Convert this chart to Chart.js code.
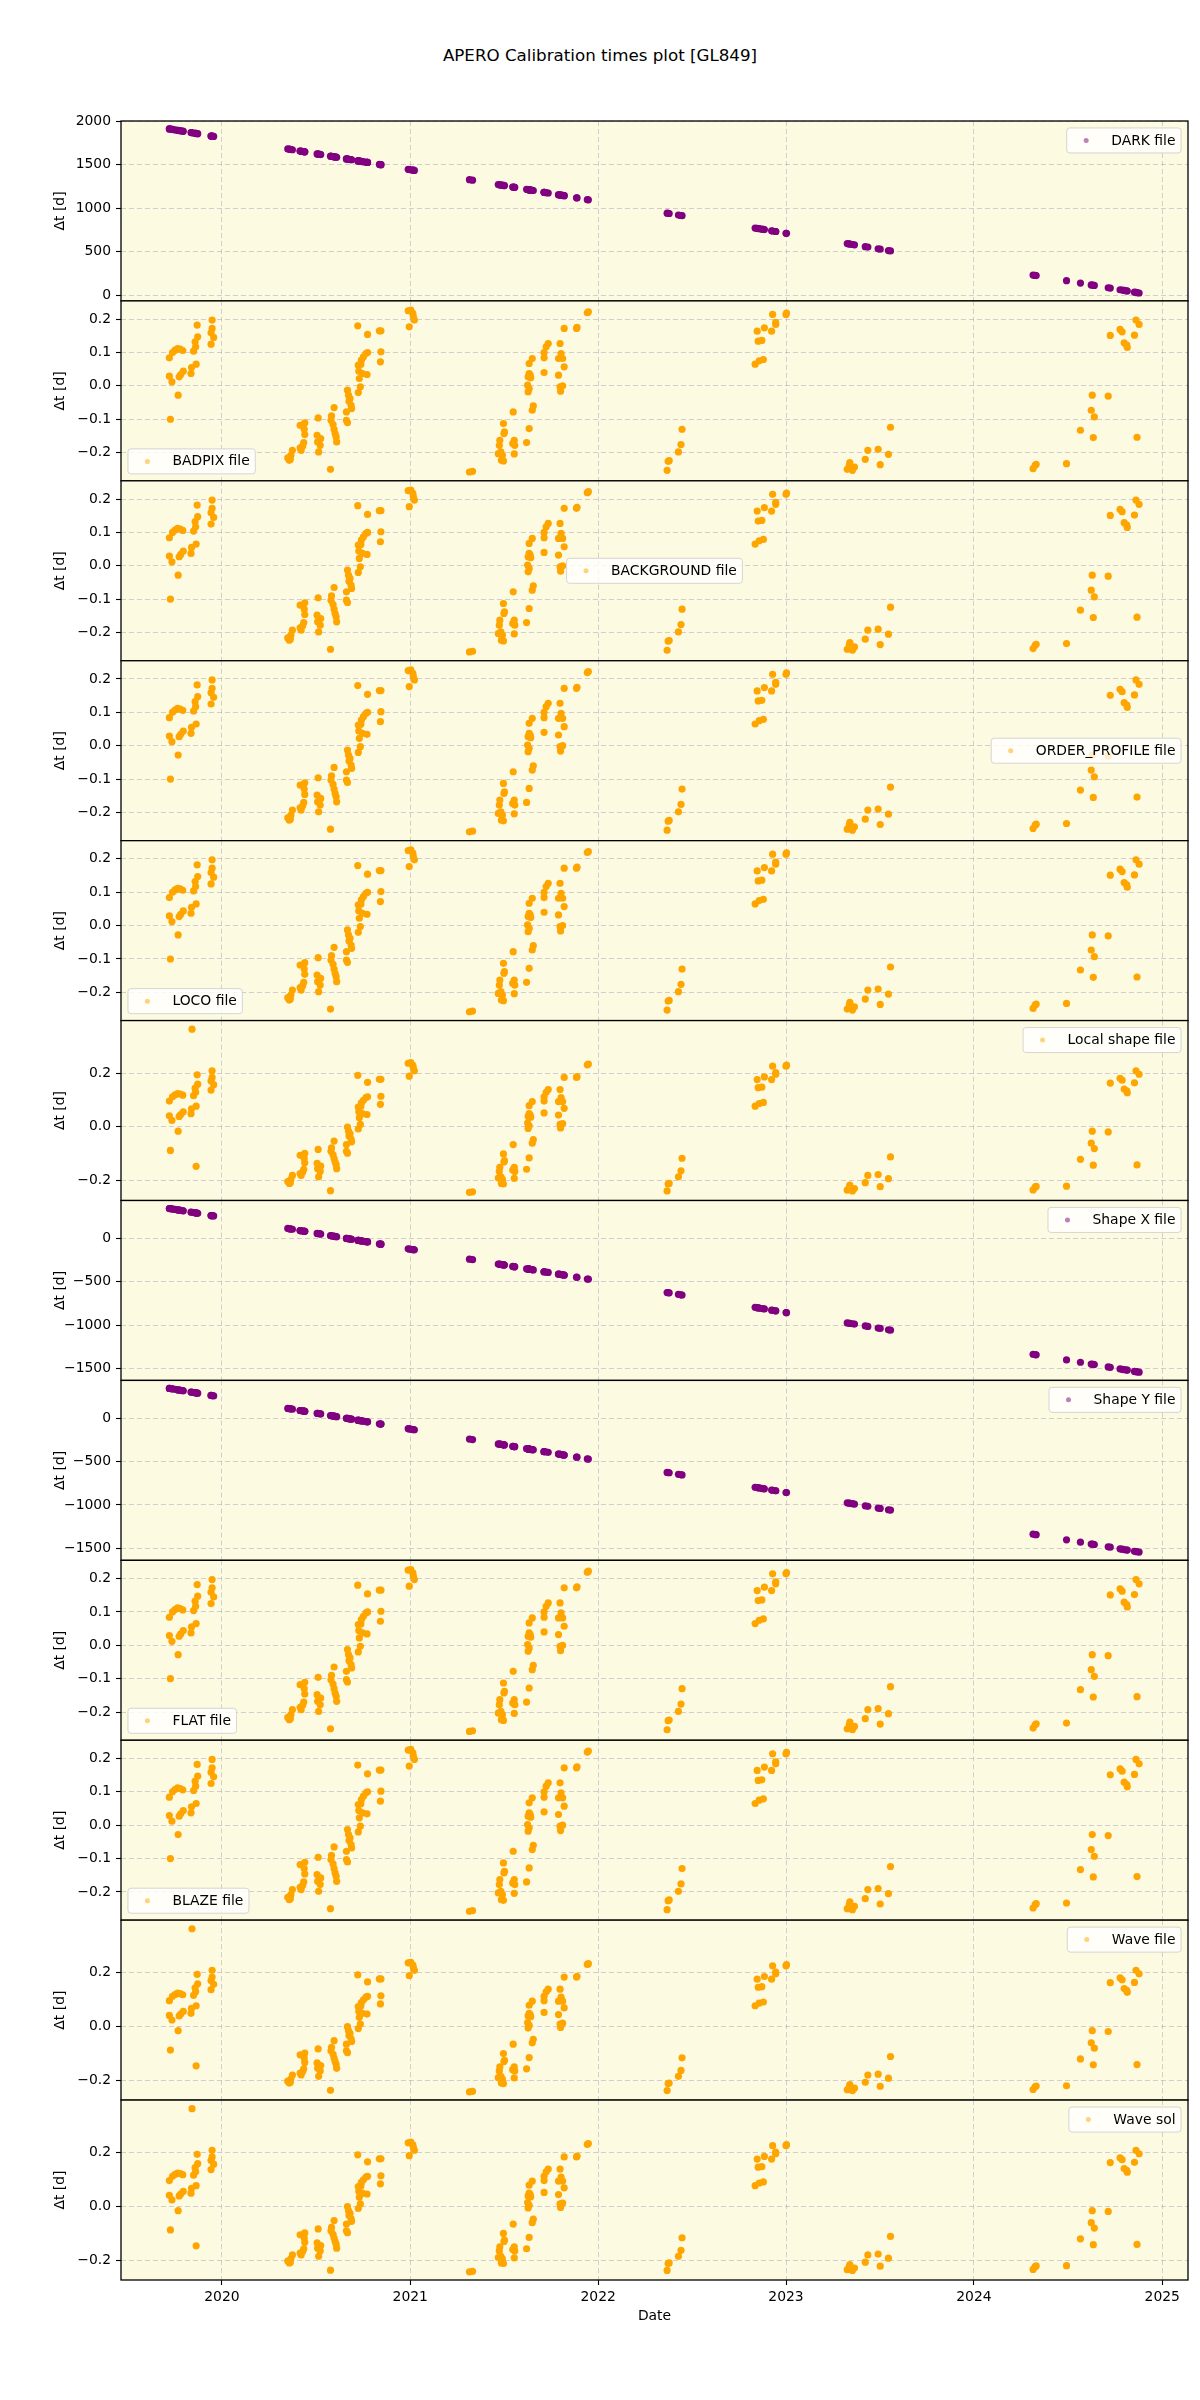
<!DOCTYPE html>
<html>
<head>
<meta charset="utf-8">
<script src="https://cdn.jsdelivr.net/npm/chart.js@4.4.1/dist/chart.umd.min.js"></script>
<style>
  html, body { margin: 0; padding: 0; background: #ffffff; }
  body { width: 1200px; height: 2400px; position: relative; overflow: hidden; }
  canvas { position: absolute; left: 0; }
  #title { position: absolute; left: 0; width: 1200px; top: 45px; line-height: 21px; text-align: center;
           font-family: 'DejaVu Sans'; font-size: 16.7px; color: #000; }
</style>
</head>
<body>
<div id="title">APERO Calibration times plot [GL849]</div>
<script>
// ---------------- DATA ----------------
// Observation dates (MJD) of calibration files
const obsMJD = [
  58747,58747,58749,58752,58753,58758,58763,58768,58773,58764,58766,58769,58774,58789,58790,58799,58794,58798,58797,58802,58801,58828,58828,58830,58833,58830,
  58977,58980,58982,58983,58986,59001,59010,59009,59010,59001,59003,59006,59008,59036,59034,59035,59040,59041,59037,59060,59062,59061,59065,59067,59071,59072,59069,59067,59091,59091,59093,59093,59095,59098,59100,59101,59096,59114,59118,59116,59115,59119,59114,59120,59124,59129,59132,59122,59131,59113,59132,59155,59158,59158,59157,59211,59216,59220,59221,59223,59213,
  59330,59336,59386,59388,59389,59391,59392,59396,59394,59396,59398,59397,59415,59414,59417,59418,59417,59441,59446,59452,59454,59444,59446,59443,59444,59448,59446,59449,59446,59452,59475,59475,59475,59479,59483,59503,59506,59507,59511,59503,59508,59511,59514,59506,59514,59538,59539,59559,59561,
  59714,59716,59718,59736,59741,59743,59885,59893,59901,59891,59898,59889,59903,59917,59919,59925,59925,59945,59946,
  60064,60069,60074,60078,60068,60099,60104,60124,60128,60144,60148,
  60425,60431,60429,60490,60517,60538,60544,60540,60571,60542,60627,60575,60594,60598,60622,60602,60607,60608,60625,60631
];

// Δt [d] for DARK file
const darkDt = [
  1909,1909,1907,1904,1903,1898,1893,1888,1883,1892,1890,1887,1882,1867,1866,1857,1862,1858,1859,1854,1855,1828,1828,1826,1823,1826,
  1679,1676,1674,1673,1670,1655,1646,1647,1646,1655,1653,1650,1648,1620,1622,1621,1616,1615,1619,1596,1594,1595,1591,1589,1585,1584,1587,1589,1565,1565,1563,1563,1561,1558,1556,1555,1560,1542,1538,1540,1541,1537,1542,1536,1532,1527,1524,1534,1525,1543,1524,1501,1498,1498,1499,1445,1440,1436,1435,1433,1443,
  1326,1320,1270,1268,1267,1265,1264,1260,1262,1260,1258,1259,1241,1242,1239,1238,1239,1215,1210,1204,1202,1212,1210,1213,1212,1208,1210,1207,1210,1204,1181,1181,1181,1177,1173,1153,1150,1149,1145,1153,1148,1145,1142,1150,1142,1118,1117,1097,1095,
  942,940,938,920,915,913,771,763,755,765,758,767,753,739,737,731,731,711,710,
  592,587,582,578,588,557,552,532,528,512,508,
  231,225,227,166,139,118,112,116,85,114,29,81,62,58,34,54,49,48,31,25
];

// Δt [d] for Shape X / Shape Y files
const shapeDt = [
  342,342,340,337,336,331,326,321,316,325,323,320,315,300,299,290,295,291,292,287,288,261,261,259,256,259,
  112,109,107,106,103,88,79,80,79,88,86,83,81,53,55,54,49,48,52,29,27,28,24,22,18,17,20,22,-2,-2,-4,-4,-6,-9,-11,-12,-7,-25,-29,-27,-26,-30,-25,-31,-35,-40,-43,-33,-42,-24,-43,-66,-69,-69,-68,-122,-127,-131,-132,-134,-124,
  -241,-247,-297,-299,-300,-302,-303,-307,-305,-307,-309,-308,-326,-325,-328,-329,-328,-352,-357,-363,-365,-355,-357,-354,-355,-359,-357,-360,-357,-363,-386,-386,-386,-390,-394,-414,-417,-418,-422,-414,-419,-422,-425,-417,-425,-449,-450,-470,-472,
  -625,-627,-629,-647,-652,-654,-796,-804,-812,-802,-809,-800,-814,-828,-830,-836,-836,-856,-857,
  -975,-980,-985,-989,-979,-1010,-1015,-1035,-1039,-1055,-1059,
  -1336,-1342,-1340,-1401,-1428,-1449,-1455,-1451,-1482,-1453,-1538,-1486,-1505,-1509,-1533,-1513,-1518,-1519,-1536,-1542
];

// Δt [d] for BADPIX / BACKGROUND / ORDER_PROFILE / LOCO / FLAT / BLAZE files
const nightDtA = [
  0.084,0.029,-0.100,0.012,0.100,0.107,0.112,0.110,0.106,-0.028,0.027,0.034,0.044,0.037,0.055,0.065,0.104,0.117,0.132,0.147,0.182,0.125,0.159,0.172,0.145,0.197,
  -0.216,-0.223,-0.220,-0.208,-0.193,-0.118,-0.111,-0.130,-0.146,-0.186,-0.193,-0.180,-0.170,-0.096,-0.148,-0.168,-0.178,-0.158,-0.198,-0.250,-0.090,-0.103,-0.116,-0.130,-0.153,-0.168,-0.143,-0.065,-0.078,-0.103,-0.110,-0.013,-0.028,-0.038,-0.058,-0.068,-0.046,-0.020,-0.003,0.022,0.044,0.064,0.062,0.077,0.087,0.097,0.100,0.037,0.034,0.180,0.154,0.165,0.165,0.102,0.072,0.225,0.227,0.217,0.207,0.197,0.177,
  -0.258,-0.256,-0.203,-0.178,-0.163,-0.198,-0.223,-0.225,-0.208,-0.113,-0.138,-0.143,-0.078,-0.173,-0.163,-0.178,-0.204,-0.170,-0.128,-0.073,-0.060,-0.018,-0.008,0.002,0.027,0.032,0.037,0.024,0.067,0.082,0.040,0.084,0.100,0.117,0.127,0.032,-0.003,-0.016,0.000,0.082,0.097,0.082,0.057,0.127,0.172,0.172,0.175,0.219,0.222,
  -0.253,-0.226,-0.224,-0.198,-0.176,-0.130,0.065,0.075,0.079,0.134,0.136,0.164,0.174,0.164,0.214,0.184,0.190,0.214,0.218,
  -0.250,-0.230,-0.253,-0.243,-0.238,-0.220,-0.193,-0.190,-0.236,-0.205,-0.124,
  -0.248,-0.235,-0.238,-0.233,-0.133,-0.073,-0.093,-0.028,-0.031,-0.155,-0.154,0.151,0.169,0.162,0.152,0.129,0.122,0.115,0.197,0.184
];

// Δt [d] for Local shape / Wave file / Wave sol
const nightDtB = [
  0.096,0.041,-0.088,0.024,0.112,0.119,0.124,0.122,0.118,-0.016,0.039,0.046,0.056,0.049,0.067,0.077,0.116,0.129,0.144,0.159,0.194,0.137,0.171,0.184,0.157,0.209,
  -0.204,-0.211,-0.208,-0.196,-0.181,-0.106,-0.099,-0.118,-0.134,-0.174,-0.181,-0.168,-0.158,-0.084,-0.136,-0.156,-0.166,-0.146,-0.186,-0.238,-0.078,-0.091,-0.104,-0.118,-0.141,-0.156,-0.131,-0.053,-0.066,-0.091,-0.098,-0.001,-0.016,-0.026,-0.046,-0.056,-0.034,-0.008,0.009,0.034,0.056,0.076,0.074,0.089,0.099,0.109,0.112,0.049,0.046,0.192,0.166,0.177,0.177,0.114,0.084,0.237,0.239,0.229,0.219,0.209,0.189,
  -0.244,-0.242,-0.191,-0.166,-0.151,-0.186,-0.211,-0.213,-0.196,-0.101,-0.126,-0.131,-0.066,-0.161,-0.151,-0.166,-0.192,-0.158,-0.116,-0.061,-0.048,-0.006,0.004,0.014,0.039,0.044,0.049,0.036,0.079,0.094,0.052,0.096,0.112,0.129,0.139,0.044,0.009,-0.004,0.012,0.094,0.109,0.094,0.069,0.139,0.184,0.184,0.187,0.231,0.234,
  -0.239,-0.213,-0.211,-0.186,-0.164,-0.117,0.077,0.087,0.091,0.146,0.148,0.176,0.186,0.176,0.226,0.196,0.202,0.226,0.230,
  -0.236,-0.217,-0.239,-0.230,-0.225,-0.208,-0.181,-0.178,-0.223,-0.193,-0.112,
  -0.235,-0.222,-0.225,-0.221,-0.121,-0.061,-0.081,-0.016,-0.019,-0.143,-0.142,0.163,0.181,0.174,0.164,0.141,0.134,0.127,0.209,0.196
];
// two extra entries only present for the Local shape / Wave files
const extraMJD_B = [58791, 58799];
const extraDt_B = [0.364, -0.147];

// Axis ticks
const yearTickMJD = [58849, 59215, 59580, 59945, 60310, 60676];
const yearTickLabels = ['2020', '2021', '2022', '2023', '2024', '2025'];
const darkTicks = [0, 500, 1000, 1500, 2000];
const darkTickLabels = ['0', '500', '1000', '1500', '2000'];
const shapeTicks = [-1500, -1000, -500, 0];
const shapeTickLabels = ['\u22121500', '\u22121000', '\u2212500', '0'];
const nightTicksA = [-0.2, -0.1, 0.0, 0.1, 0.2];
const nightTickLabelsA = ['\u22120.2', '\u22120.1', '0.0', '0.1', '0.2'];
const nightTicksB = [-0.2, 0.0, 0.2];
const nightTickLabelsB = ['\u22120.2', '0.0', '0.2'];

const panelLabels = ['DARK file', 'BADPIX file', 'BACKGROUND file', 'ORDER_PROFILE file', 'LOCO file',
  'Local shape file', 'Shape X file', 'Shape Y file', 'FLAT file', 'BLAZE file', 'Wave file', 'Wave sol'];

// ---------------- LAYOUT / STYLE ----------------
const PLOT_LEFT = 121, PLOT_RIGHT = 1188, PLOT_TOP = 121, PLOT_BOTTOM = 2280;
const NP = 12;
const PH = (PLOT_BOTTOM - PLOT_TOP) / NP;
const FS = 13.9;
const FONT = 'DejaVu Sans';
const X_MIN = 58653, X_MAX = 60726;
const GRID = 'rgba(176,176,186,0.65)';
const BG = 'rgb(252,250,225)';
const PURPLE = '#800080', ORANGE = '#FFA500';

Chart.defaults.font.family = FONT;
Chart.defaults.font.size = FS;
Chart.defaults.color = '#000';

const rangeA = [-0.2845, 0.2545];
const rangeB = [-0.2745, 0.396];

function pts(xs, ys) { return xs.map((x, k) => ({ x: x, y: ys[k] })); }
const ptsA = pts(obsMJD, nightDtA);
const ptsB = pts(obsMJD, nightDtB).concat(pts(extraMJD_B, extraDt_B));

const panels = [
  { color: PURPLE, data: pts(obsMJD, darkDt), range: [-66, 2000], ticks: darkTicks, tl: darkTickLabels, legend: 'ur' },
  { color: ORANGE, data: ptsA, range: rangeA, ticks: nightTicksA, tl: nightTickLabelsA, legend: 'll' },
  { color: ORANGE, data: ptsA, range: rangeA, ticks: nightTicksA, tl: nightTickLabelsA, legend: 'c' },
  { color: ORANGE, data: ptsA, range: rangeA, ticks: nightTicksA, tl: nightTickLabelsA, legend: 'cr' },
  { color: ORANGE, data: ptsA, range: rangeA, ticks: nightTicksA, tl: nightTickLabelsA, legend: 'll' },
  { color: ORANGE, data: ptsB, range: rangeB, ticks: nightTicksB, tl: nightTickLabelsB, legend: 'ur' },
  { color: PURPLE, data: pts(obsMJD, shapeDt), range: [-1637, 434], ticks: shapeTicks, tl: shapeTickLabels, legend: 'ur' },
  { color: PURPLE, data: pts(obsMJD, shapeDt), range: [-1637, 434], ticks: shapeTicks, tl: shapeTickLabels, legend: 'ur' },
  { color: ORANGE, data: ptsA, range: rangeA, ticks: nightTicksA, tl: nightTickLabelsA, legend: 'll' },
  { color: ORANGE, data: ptsA, range: rangeA, ticks: nightTicksA, tl: nightTickLabelsA, legend: 'll' },
  { color: ORANGE, data: ptsB, range: rangeB, ticks: nightTicksB, tl: nightTickLabelsB, legend: 'ur' },
  { color: ORANGE, data: ptsB, range: rangeB, ticks: nightTicksB, tl: nightTickLabelsB, legend: 'ur' }
];

function roundRect(ctx, x, y, w, h, r) {
  ctx.beginPath();
  ctx.moveTo(x + r, y);
  ctx.lineTo(x + w - r, y);
  ctx.arcTo(x + w, y, x + w, y + r, r);
  ctx.lineTo(x + w, y + h - r);
  ctx.arcTo(x + w, y + h, x + w - r, y + h, r);
  ctx.lineTo(x + r, y + h);
  ctx.arcTo(x, y + h, x, y + h - r, r);
  ctx.lineTo(x, y + r);
  ctx.arcTo(x, y, x + r, y, r);
  ctx.closePath();
}

function alphaColor(c) {
  return c === PURPLE ? 'rgba(128,0,128,0.5)' : 'rgba(255,165,0,0.5)';
}

panels.forEach((p, i) => {
  const label = panelLabels[i];
  const top = PLOT_TOP + i * PH;
  const bottom = top + PH;
  const last = i === NP - 1;
  const cTop = Math.floor(top - 22);
  const cBot = last ? 2400 : Math.ceil(bottom + 22);
  const cH = cBot - cTop;
  const canvas = document.createElement('canvas');
  canvas.width = 1200;
  canvas.height = cH;
  canvas.style.top = cTop + 'px';
  canvas.style.width = '1200px';
  canvas.style.height = cH + 'px';
  document.body.appendChild(canvas);
  const padTop = top - cTop;
  const padBottom = last ? 0 : (cBot - bottom);
  const xAxisH = last ? (cBot - bottom) : 0;

  const panelPlugin = {
    id: 'panelDeco' + i,
    beforeDraw(chart) {
      const ctx = chart.ctx, ca = chart.chartArea;
      ctx.save();
      ctx.fillStyle = BG;
      ctx.fillRect(ca.left, ca.top, ca.right - ca.left, ca.bottom - ca.top);
      ctx.restore();
    },
    afterDraw(chart) {
      const ctx = chart.ctx, ca = chart.chartArea;
      ctx.save();
      // spines
      ctx.strokeStyle = '#000';
      ctx.lineWidth = 1.3;
      ctx.strokeRect(ca.left, ca.top, ca.right - ca.left, ca.bottom - ca.top);
      // y label
      ctx.fillStyle = '#000';
      ctx.font = FS + 'px ' + FONT;
      ctx.textAlign = 'center';
      ctx.textBaseline = 'middle';
      ctx.translate(60, (ca.top + ca.bottom) / 2);
      ctx.rotate(-Math.PI / 2);
      ctx.fillText('\u0394t [d]', 0, 0);
      ctx.restore();
      // x label
      if (last) {
        ctx.save();
        ctx.fillStyle = '#000';
        ctx.font = FS + 'px ' + FONT;
        ctx.textAlign = 'center';
        ctx.textBaseline = 'middle';
        ctx.fillText('Date', (ca.left + ca.right) / 2, ca.bottom + 36);
        ctx.restore();
      }
      // legend
      ctx.save();
      ctx.font = FS + 'px ' + FONT;
      const tw = ctx.measureText(label).width;
      const w = 0.8 * FS + 2 * FS + 0.8 * FS + tw;
      const h = 25;
      const pad = 0.5 * FS;
      let x, y;
      if (p.legend === 'ur') { x = ca.right - pad - w; y = ca.top + pad; }
      else if (p.legend === 'll') { x = ca.left + pad; y = ca.bottom - pad - h; }
      else if (p.legend === 'c') { x = (ca.left + ca.right) / 2 - w / 2; y = (ca.top + ca.bottom) / 2 - h / 2; }
      else { x = ca.right - pad - w; y = (ca.top + ca.bottom) / 2 - h / 2; }
      roundRect(ctx, x, y, w, h, 3);
      ctx.fillStyle = 'rgba(255,255,255,0.8)';
      ctx.fill();
      ctx.strokeStyle = 'rgba(204,204,204,0.8)';
      ctx.lineWidth = 1;
      ctx.stroke();
      ctx.beginPath();
      ctx.arc(x + 0.4 * FS + FS, y + h / 2, 2.5, 0, Math.PI * 2);
      ctx.fillStyle = alphaColor(p.color);
      ctx.fill();
      ctx.fillStyle = '#000';
      ctx.textAlign = 'left';
      ctx.textBaseline = 'middle';
      ctx.fillText(label, x + 0.4 * FS + 2 * FS + 0.8 * FS, y + h / 2 + 0.5);
      ctx.restore();
    }
  };

  new Chart(canvas.getContext('2d'), {
    type: 'scatter',
    data: {
      datasets: [{
        label: label,
        data: p.data,
        pointRadius: 3.6,
        pointHoverRadius: 3.6,
        pointBackgroundColor: p.color,
        pointBorderWidth: 0,
        showLine: false
      }]
    },
    options: {
      responsive: false,
      animation: false,
      devicePixelRatio: 1,
      events: [],
      layout: { padding: { top: padTop, bottom: padBottom, left: 0, right: 1200 - PLOT_RIGHT } },
      plugins: { legend: { display: false }, tooltip: { enabled: false }, title: { display: false } },
      scales: {
        x: {
          type: 'linear',
          position: 'bottom',
          min: X_MIN,
          max: X_MAX,
          afterBuildTicks: (s) => { s.ticks = yearTickMJD.map(v => ({ value: v })); },
          afterFit: (s) => { s.height = xAxisH; },
          ticks: {
            display: last,
            autoSkip: false,
            maxRotation: 0,
            padding: 4,
            font: { size: FS, family: FONT },
            color: '#000',
            callback: (v, idx) => yearTickLabels[idx]
          },
          grid: {
            color: GRID, lineWidth: 0.9,
            drawTicks: last, tickLength: 5, tickColor: '#000', tickWidth: 1.1, tickBorderDash: []
          },
          border: { display: false, dash: [5, 3] }
        },
        y: {
          type: 'linear',
          position: 'left',
          min: p.range[0],
          max: p.range[1],
          afterBuildTicks: (s) => { s.ticks = p.ticks.map(v => ({ value: v })); },
          afterFit: (s) => { s.width = PLOT_LEFT; },
          ticks: {
            autoSkip: false,
            padding: 5,
            font: { size: FS, family: FONT },
            color: '#000',
            callback: (v, idx) => p.tl[idx]
          },
          grid: {
            color: GRID, lineWidth: 0.9,
            drawTicks: true, tickLength: 5, tickColor: '#000', tickWidth: 1.1, tickBorderDash: []
          },
          border: { display: false, dash: [5, 3] }
        }
      }
    },
    plugins: [panelPlugin]
  });
});
</script>
</body>
</html>
